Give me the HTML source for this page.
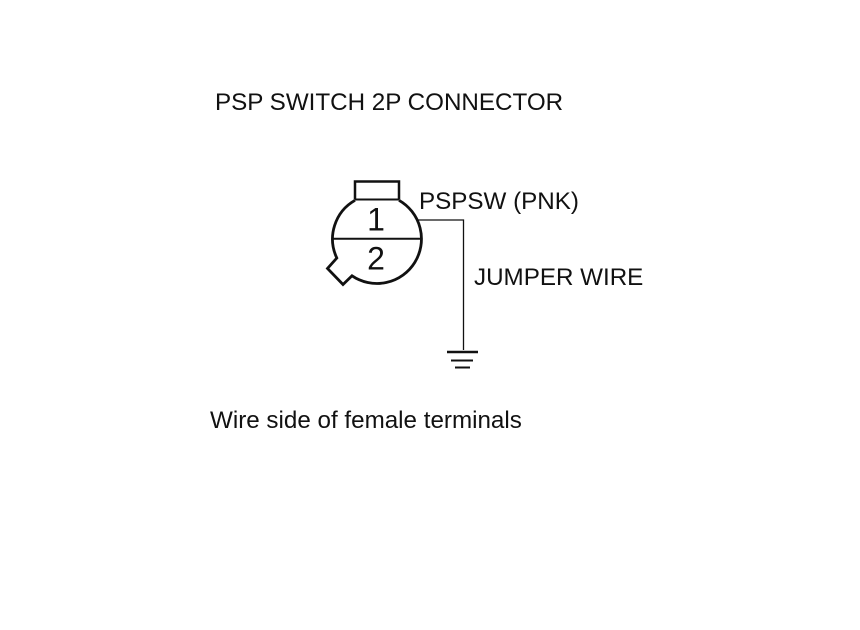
<!DOCTYPE html>
<html>
<head>
<meta charset="utf-8">
<style>
html,body{margin:0;padding:0;background:#fff;width:860px;height:630px;overflow:hidden}
svg{display:block}
text{font-family:"Liberation Sans",Arial,sans-serif;fill:#111}
</style>
</head>
<body>
<svg width="860" height="630" viewBox="0 0 860 630" xmlns="http://www.w3.org/2000/svg">
<rect width="860" height="630" fill="#fff"/>
<text x="215" y="110" font-size="24.2">PSP SWITCH 2P CONNECTOR</text>
<text x="419" y="209" font-size="24.2">PSPSW (PNK)</text>
<text x="474" y="285" font-size="24.2">JUMPER WIRE</text>
<text x="210" y="428" font-size="24.2">Wire side of female terminals</text>
<text x="376" y="230.500" font-size="32" text-anchor="middle">1</text>
<text x="376" y="269.500" font-size="32" text-anchor="middle">2</text>
<g fill="none" stroke="#111" stroke-linecap="butt">
<path d="M355 199.500V181.500H399V199.500" stroke-width="2.500"/>
<path d="M355 199.500H399" stroke-width="2"/>
<path d="M399 200.300A44.500 44.500 0 1 1 352 275.800L343 284.500L327.500 268.500L336.800 258A44.500 44.500 0 0 1 355 200.300" stroke-width="2.800"/>
<path d="M333 238.800H421" stroke-width="2"/>
<path d="M417 220H463.500V350" stroke-width="1.300"/>
<path d="M447 352H478" stroke-width="2.600"/>
<path d="M451 360.500H473" stroke-width="2"/>
<path d="M455 367.500H470" stroke-width="2"/>
</g>
</svg>
</body>
</html>
